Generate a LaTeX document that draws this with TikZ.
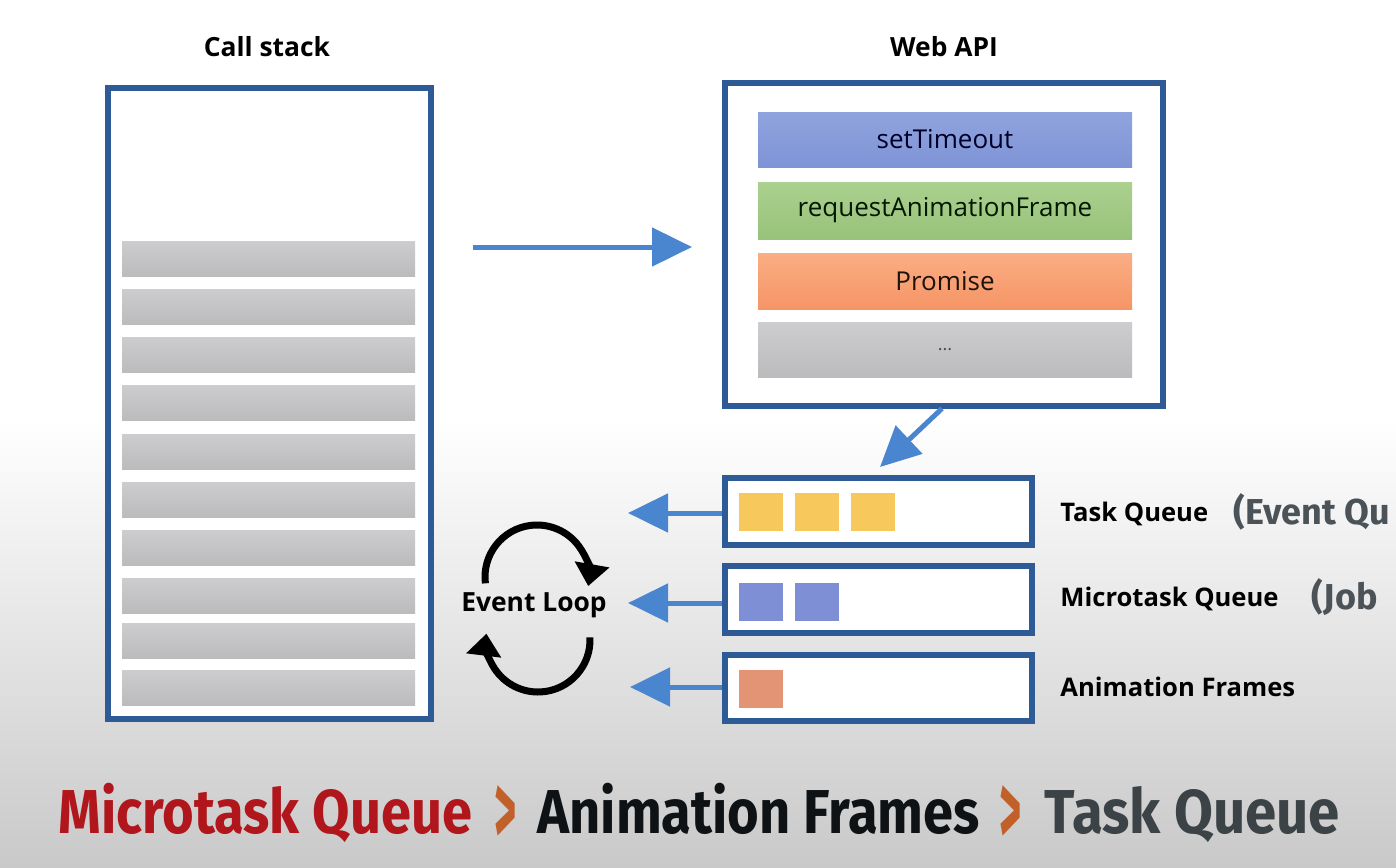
\documentclass[tikz,border=0pt]{standalone}
\usepackage{fontspec}
\setmainfont{Open Sans}
\newfontfamily\titlefont{Fira Sans}
\newfontfamily\bigfont[FakeStretch=0.875]{Fira Sans Bold}
\newfontfamily\bigfontb[FakeStretch=0.91]{Fira Sans Bold}
\newfontfamily\chevfont[FakeStretch=0.41]{Fira Sans Bold}
\usetikzlibrary{arrows.meta}
\definecolor{frameblue}{HTML}{2E5A96}
\definecolor{arrowblue}{HTML}{4A86CF}
\definecolor{bggray}{HTML}{C9C9C9}
\definecolor{bartop}{HTML}{CDCCCE}
\definecolor{barbot}{HTML}{BBBABC}
\definecolor{stblue}{HTML}{8FA3DE}
\definecolor{stblueb}{HTML}{7F94D6}
\definecolor{ragreen}{HTML}{ABD08F}
\definecolor{ragreenb}{HTML}{98C27A}
\definecolor{prorange}{HTML}{FBAD84}
\definecolor{prorangeb}{HTML}{F59566}
\definecolor{sqyellow}{HTML}{F7C95C}
\definecolor{sqblue}{HTML}{7F8FD6}
\definecolor{sqorange}{HTML}{E29474}
\definecolor{bigred}{HTML}{B0161B}
\definecolor{bigsep}{HTML}{C2602A}
\definecolor{bigdark}{HTML}{0E1214}
\definecolor{biggray}{HTML}{3C4347}
\definecolor{sidegray}{HTML}{4B5358}
\tikzset{
  frame/.style={draw=frameblue, line width=3pt, fill=white, inner sep=0pt},
  stackbar/.style={top color=bartop, bottom color=barbot, draw=none, minimum width=146.5pt, minimum height=17.5pt, inner sep=0pt},
  apibar/.style={draw=none, minimum width=187pt, inner sep=0pt, font=\fontsize{13}{15}\selectfont},
  sq/.style={draw=none, minimum width=22pt, minimum height=19pt, inner sep=0pt},
  bluearrow/.style={draw=arrowblue, line width=2.5pt, -{Triangle[length=20pt,width=19pt]}},
  loopline/.style={draw=black, line width=3.5pt, -{Triangle[length=11pt,width=17pt]}},
  title/.style={font=\bfseries\fontsize{13.2}{15}\selectfont, inner sep=0pt},
  qlabel/.style={font=\bfseries\fontsize{12.8}{15}\selectfont, anchor=base west, inner sep=0pt},
  aside/.style={font=\titlefont\bfseries\fontsize{18}{21}\selectfont, text=sidegray, anchor=base west, inner sep=0pt},
  big/.style={font=\bigfont\fontsize{31}{36}\selectfont, anchor=base west, inner sep=0pt},
  chev/.style={font=\chevfont\fontsize{52}{60}\selectfont, text=bigsep, anchor=base west, inner sep=0pt}
}
\begin{document}
\begin{tikzpicture}[x=0.5pt,y=-0.5pt]
\useasboundingbox (0,0) rectangle (1396,867);
\clip (0,0) rectangle (1396,867);
\fill[white] (0,0) rectangle (1396,420);
\shade[top color=white, bottom color=bggray] (0,419) rectangle (1396,867);

% titles
\node[title] (cstitle) at (267,47) {Call stack};
\node[title] (apititle) at (944,47) {Web API};

% call stack
\node[frame, minimum width=161.5pt, minimum height=315.5pt] (cs) at (269,403) {};
\foreach \i/\y in {1/258.5,2/306.5,3/354.5,4/402.5,5/451.5,6/499.5,7/547.5,8/595.5,9/640.5,10/687.5}
  \node[stackbar] (bar\i) at (268.5,\y) {};

% web api
\node[frame, minimum width=219pt, minimum height=161.5pt] (api) at (943.5,244) {};
\node[apibar, top color=stblue, bottom color=stblueb, minimum height=27.5pt, text=black!85!blue] (st) at (945,139.5) {setTimeout};
\node[apibar, top color=ragreen, bottom color=ragreenb, minimum height=28.5pt, text=black!90!green] (raf) at (945,210.5) {requestAnimationFrame};
\node[apibar, top color=prorange, bottom color=prorangeb, minimum height=28pt, text=black!85!brown] (pr) at (945,281) {Promise};
\node[apibar, top color=bartop, bottom color=barbot, minimum height=27.5pt, text=black!70, font=\fontsize{9}{10}\selectfont] (etc) at (945,349.5) {...};

% arrow from call stack to web api
\coordinate (a1s) at (473,247);
\coordinate (a1e) at (692,247);
\draw[bluearrow] (a1s) -- (a1e);

% queues
\node[frame, minimum width=153.5pt, minimum height=33.5pt] (tq) at (878,511) {};
\node[frame, minimum width=153.5pt, minimum height=33.5pt] (mq) at (878,599) {};
\node[frame, minimum width=153.5pt, minimum height=33pt] (aq) at (878,687.5) {};

\node[sq, fill=sqyellow] (t1) at (761,512) {};
\node[sq, fill=sqyellow] (t2) at (817,512) {};
\node[sq, fill=sqyellow] (t3) at (873,512) {};
\node[sq, fill=sqblue] (m1) at (761,601.5) {};
\node[sq, fill=sqblue] (m2) at (817,601.5) {};
\node[sq, fill=sqorange] (an1) at (761,688.5) {};

% web api to task queue
\coordinate (a2e) at (880,467);
\draw[bluearrow] (api.south -| 942,0) -- (a2e);

% queue arrows
\coordinate (tqe) at (628,513);
\coordinate (mqe) at (628,603);
\coordinate (aqe) at (630,687);
\draw[bluearrow] (tq.west |- tqe) -- (tqe);
\draw[bluearrow] (mq.west |- mqe) -- (mqe);
\draw[bluearrow] (aq.west |- aqe) -- (aqe);

% event loop
\node[font=\bfseries\fontsize{13.2}{15}\selectfont, inner sep=0pt] (el) at (534,605) {Event Loop};
\draw[loopline] (537,577) ++(173:52) arc[start angle=173, end angle=370, radius=52];
\draw[loopline] (538,640) ++(-3:52) arc[start angle=-3, end angle=187, radius=52];

% queue labels
\node[qlabel] (tql) at (1060,521) {Task Queue};
\node[aside] (tqa) at (1233,524) {(Event Qu};
\node[qlabel] (mql) at (1060,606) {Microtask Queue};
\node[aside] (mqa) at (1311,609) {(Job};
\node[qlabel] (aql) at (1060,696) {Animation Frames};

% bottom line
\node[big, text=bigred] (b1) at (58,833) {Microtask Queue};
\node[chev] (s1) at (494,845) {>};
\node[big, text=bigdark] (b2) at (537,833) {Animation Frames};
\node[chev] (s2) at (999,845) {>};
\node[big, font=\bigfontb\fontsize{31}{36}\selectfont, text=biggray] (b3) at (1044,833) {Task Queue};
\end{tikzpicture}
\end{document}
